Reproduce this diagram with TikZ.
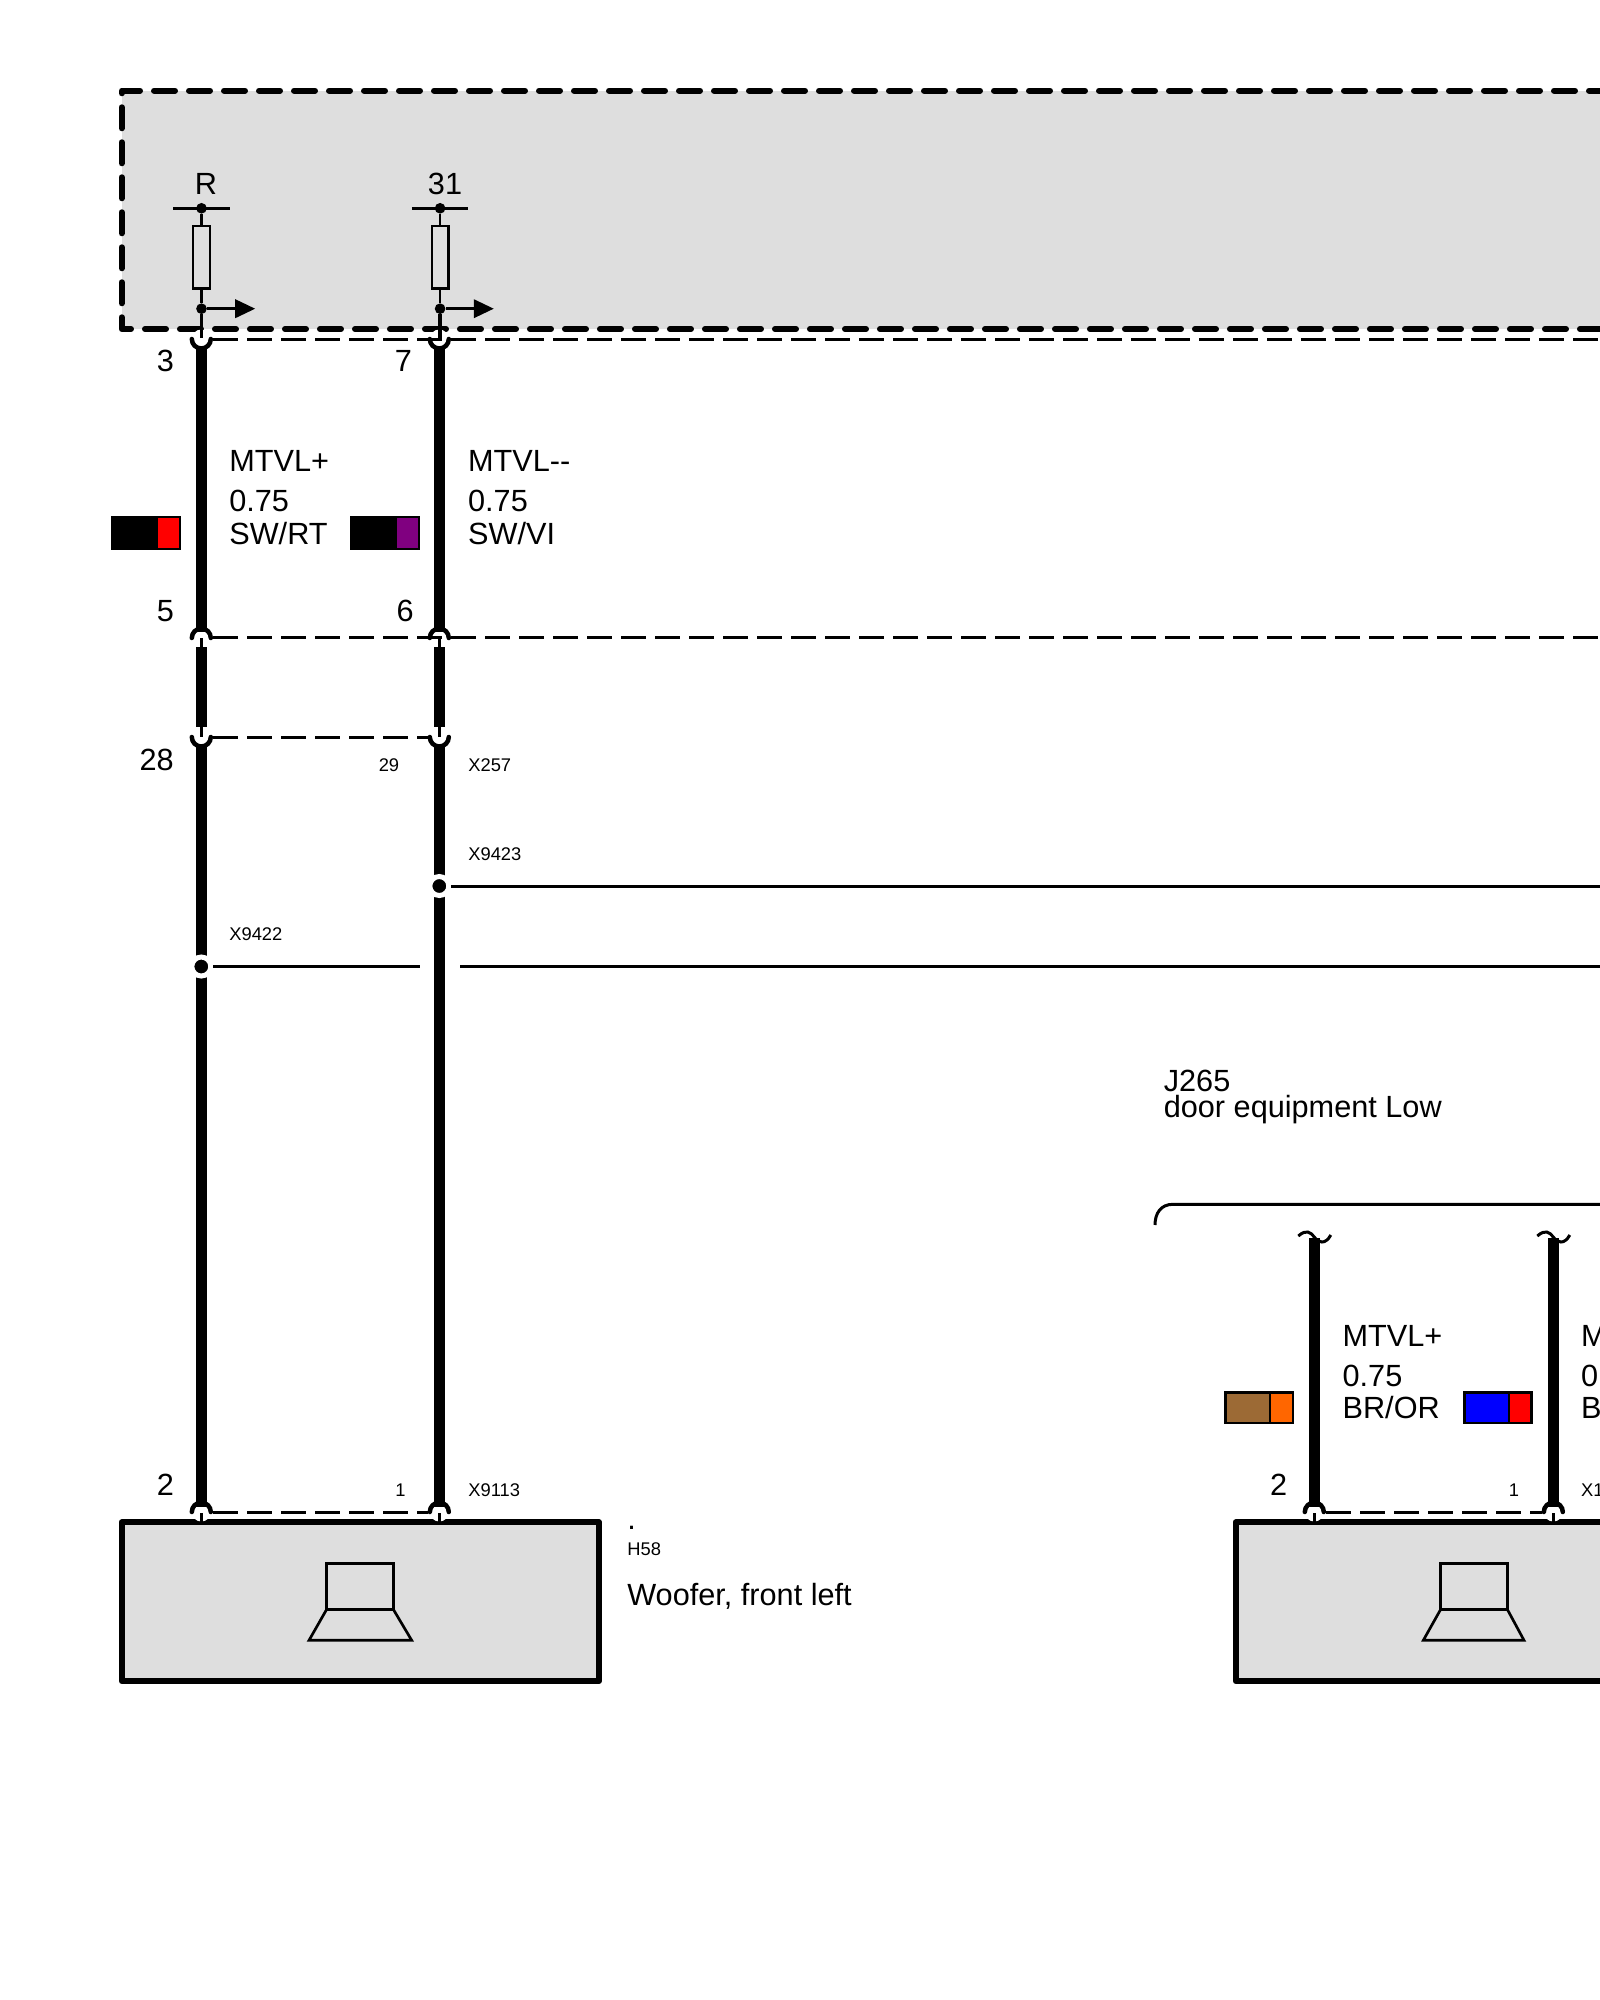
\documentclass[tikz,border=0pt]{standalone}
\usepackage{fontspec}
\setmainfont{Liberation Sans}
\usetikzlibrary{arrows.meta}
\definecolor{panel}{HTML}{DEDEDE}
\definecolor{wbrown}{HTML}{9C6A35}
\definecolor{worange}{HTML}{FF6600}
\definecolor{wviolet}{HTML}{800080}
\tikzset{
  panelbox/.style={draw=black,fill=panel,line width=3.6pt,line join=round},
  panelfill/.style={fill=panel},
  housing/.style={draw=black,line width=3.6pt,line cap=round,line join=round,dash pattern=on 12.6pt off 8.4pt},
  harness/.style={line width=1.8pt,dash pattern=on 15pt off 5.4pt},
  thickwire/.style={line width=6.4pt},
  thinwire/.style={line width=2.1pt},
  signal/.style={line width=1.8pt},
  pinarc/.style={line width=2.7pt,line cap=round},
  halo/.style={fill=white,draw=none,circle,inner sep=0pt,minimum size=11.4pt},
  splice/.style={circle,fill=black,draw=white,line width=3pt,inner sep=0pt,minimum size=11.4pt},
  smalldot/.style={circle,fill=black,inner sep=0pt,minimum size=6.4pt},
  sym/.style={draw=black,line width=1.6pt},
  txtbig/.style={font=\fontsize{18.4}{18.4}\selectfont,inner sep=0pt,anchor=base west},
  numbig/.style={font=\fontsize{18.4}{18.4}\selectfont,inner sep=0pt,anchor=base east},
  txtsmall/.style={font=\fontsize{11}{11}\selectfont,inner sep=0pt,anchor=base west},
  numsmall/.style={font=\fontsize{11}{11}\selectfont,inner sep=0pt,anchor=base east},
  swatch/.style={draw=black,line width=1.6pt,inner sep=0pt,outer sep=0pt}
}
\begin{document}
\begin{tikzpicture}[x=0.6pt,y=-0.6pt]
\useasboundingbox (0,0) rectangle (1600,2000);
\clip (0,0) rectangle (1600,2000);
% top housing
\fill[panelfill] (121.7,90.6) rectangle (1610,329);
\draw[housing] (1610,90.6) -- (121.7,90.6) -- (121.7,329) -- (1610,329);
% speaker housings
\draw[panelbox] (121.7,1522.3) rectangle (599,1681);
\draw[panelbox] (1235.7,1522.3) rectangle (1620,1681);
% halos of the connector pins
\foreach \wx/\wn in {201.3/a,439.3/b}{
  \node[halo] (topHalo\wn) at (\wx,339) {};
  \node[halo] (midHalo\wn) at (\wx,638) {};
  \node[halo] (lowHalo\wn) at (\wx,737) {};
  \node[halo] (botHalo\wn) at (\wx,1512) {};
}
\foreach \wx/\wn in {1314.3/c,1553.3/d}{
  \node[halo] (botHalo\wn) at (\wx,1512) {};
}
% harness dashed lines
\coordinate (rowAend) at (1610,339.3);
\coordinate (rowBend) at (1610,637.3);
\draw[harness] (213,339.3) -- (rowAend);
\draw[harness] (213,637.3) -- (rowBend);
\draw[harness] (213,737.3) -- (428,737.3);
\draw[harness] (213,1512.3) -- (428,1512.3);
\draw[harness] (1326,1512.3) -- (1542,1512.3);
% wires
\foreach \wx/\wn/\sx/\rw in {201.3/a/201.5/8.5,439.3/b/440.1/8.2}{
  \node[smalldot] (busDot\wn) at (\sx,208.3) {};
  \node[smalldot] (outDot\wn) at (\sx,308.7) {};
  \draw[sym] (\sx-\rw,226) rectangle (\sx+\rw,288.7);
  \draw[sym] (\sx-28.2,208.3) -- (\sx+28.2,208.3);
  \draw[sym] (busDot\wn) -- (\sx,226);
  \draw[sym] (\sx,288.7) -- (outDot\wn);
  \draw[sym,-{Triangle[length=12pt,width=11pt]}] (outDot\wn) -- (\sx+53.7,308.7);
  \draw[thinwire] (outDot\wn) -- (\sx,338);
  \draw[pinarc] (\wx-9.5,339) arc[start angle=180,end angle=360,radius=5.7pt];
  \draw[thickwire] (\wx,347) -- (\wx,632);
  \draw[pinarc] (\wx-9.5,638) arc[start angle=180,end angle=0,radius=5.7pt];
  \draw[thinwire] (\wx,638) -- (\wx,648);
  \draw[thickwire] (\wx,647) -- (\wx,727);
  \draw[thinwire] (\wx,726) -- (\wx,737);
  \draw[pinarc] (\wx-9.5,737) arc[start angle=180,end angle=360,radius=5.7pt];
  \draw[thickwire] (\wx,744) -- (\wx,1507);
  \draw[pinarc] (\wx-9.5,1512) arc[start angle=180,end angle=0,radius=5.7pt];
  \draw[thinwire] (\wx,1513) -- (\wx,1522);
}
\foreach \wx/\wn in {1314.3/c,1553.3/d}{
  \draw[thickwire] (\wx,1238) -- (\wx,1507);
  \draw[signal] (\wx-16,1236) .. controls (\wx-8,1229) and (\wx-4,1232) .. (\wx,1237) .. controls (\wx+4,1243) and (\wx+11,1245) .. (\wx+16.5,1235);
  \draw[pinarc] (\wx-9.5,1512) arc[start angle=180,end angle=0,radius=5.7pt];
  \draw[thinwire] (\wx,1513) -- (\wx,1522);
}
% splices
\node[splice] (spliceA) at (439.3,886) {};
\node[splice] (spliceB) at (201.3,966.5) {};
\coordinate (spliceAend) at (1610,886);
\coordinate (spliceBgapL) at (420,966.5);
\coordinate (spliceBgapR) at (460,966.5);
\coordinate (spliceBend) at (1610,966.5);
\draw[signal] (spliceA.east) -- (spliceAend);
\draw[signal] (spliceB.east) -- (spliceBgapL);
\draw[signal] (spliceBgapR) -- (spliceBend);
% speakers
\foreach \rl/\rr/\bl/\br in {326.7/393.3/309/411.7,1440.7/1507.3/1423.3/1524}{
  \draw[sym] (\rl,1563.3) rectangle (\rr,1609.3);
  \draw[sym,line join=miter] (\rl,1609.3) -- (\bl,1640.3) -- (\br,1640.3) -- (\rr,1609.3);
}
% brace
\draw[signal] (1155,1225) .. controls (1155,1213) and (1161,1204.3) .. (1173,1204.3) -- (1610,1204.3);
% colour swatches
\node[swatch,fill=black,minimum width=40.8pt,minimum height=19.2pt,anchor=north west] (swA) at (112,517) {};
\fill[red] (157.7,518) rectangle (179,548);
\node[swatch,fill=black,minimum width=40.8pt,minimum height=19.2pt,anchor=north west] (swB) at (351,517) {};
\fill[wviolet] (396.7,518) rectangle (417.7,548);
\draw[swatch,fill=wbrown] (1225.5,1392.5) rectangle (1270,1423);
\draw[swatch,fill=worange] (1270,1392.5) rectangle (1293,1423);
\draw[swatch,fill=blue] (1464.5,1392.5) rectangle (1509,1423);
\draw[swatch,fill=red] (1509,1392.5) rectangle (1531.5,1423);
% texts
\node[txtbig,anchor=base] (tR) at (206,194) {R};
\node[txtbig,anchor=base] (t31) at (445,194) {31};
\node[numbig] (n3) at (174.2,371.7) {3};
\node[numbig] (n7) at (412.2,371.7) {7};
\node[numbig] (n5) at (174.2,621.7) {5};
\node[numbig] (n6) at (414,621.7) {6};
\node[numbig] (n28) at (174,770.7) {28};
\node[numbig] (n2) at (174.2,1495.7) {2};
\node[numbig] (n2b) at (1287.5,1495.7) {2};
\node[numsmall] (n29) at (399.5,771) {29};
\node[numsmall] (n1) at (406,1496) {1};
\node[numsmall] (n1b) at (1519.5,1496) {1};
\node[txtsmall] (x257) at (468,771) {X257};
\node[txtsmall] (x9423) at (468,860.3) {X9423};
\node[txtsmall] (x9422) at (229,940) {X9422};
\node[txtsmall] (x9113) at (468,1496) {X9113};
\node[txtsmall] (x1) at (1580.7,1496) {X1};
\node[txtbig] (a1) at (229,471.7) {MTVL+};
\node[txtbig] (a2) at (229,511.7) {0.75};
\node[txtbig] (a3) at (229,544.3) {SW/RT};
\node[txtbig] (b1) at (467.8,471.7) {MTVL{-}{-}};
\node[txtbig] (b2) at (467.8,511.7) {0.75};
\node[txtbig] (b3) at (467.8,544.3) {SW/VI};
\node[txtbig] (c1) at (1342.3,1346.7) {MTVL+};
\node[txtbig] (c2) at (1342.3,1386.7) {0.75};
\node[txtbig] (c3) at (1342.3,1418.3) {BR/OR};
\node[txtbig] (d1) at (1580.7,1346.7) {M};
\node[txtbig] (d2) at (1580.7,1386.7) {0};
\node[txtbig] (d3) at (1580.7,1418.3) {B};
\node[txtbig] (j1) at (1163.5,1091) {J265};
\node[txtbig] (j2) at (1163.5,1117.7) {door equipment Low};
\node[txtbig] (dot) at (627,1529) {.};
\node[txtsmall] (h58) at (627,1555) {H58};
\node[txtbig] (woofer) at (627,1605) {Woofer, front left};
\end{tikzpicture}
\end{document}
